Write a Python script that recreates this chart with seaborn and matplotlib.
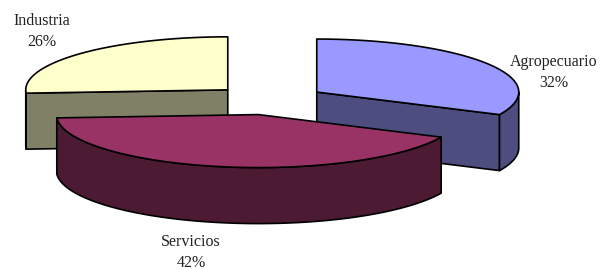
import numpy as np
import seaborn as sns
import matplotlib.pyplot as plt
from matplotlib.patches import Polygon

# Data (clockwise from 12 o'clock, as Excel draws it)
sectors = ["Agropecuario", "Servicios", "Industria"]
shares = [32, 42, 26]
top_colors = ["#9999FF", "#993366", "#FFFFCC"]
side_colors = ["#4D4D80", "#4D1A33", "#808066"]

sns.set_theme(style="white")
plt.rcParams["font.family"] = ["Liberation Serif", "DejaVu Serif"]

# Pie geometry in pixel space
cx, cy = 269, 100
rx, ry = 202, 53
depth = 56
explode = 0.28


def rim(apex, ang):
    return apex[0] + rx * np.cos(ang), apex[1] - ry * np.sin(ang)


def draw_slice(ax, a_start, a_end, top_c, side_c):
    """a_start > a_end, slice goes clockwise from a_start to a_end (radians)."""
    mid = (a_start + a_end) / 2
    apex = (cx + explode * rx * np.cos(mid), cy - explode * ry * np.sin(mid))
    kw = dict(edgecolor="black", linewidth=1.2, joinstyle="round")

    # radial faces that face the viewer
    for ang, sign in [(a_start, 1), (a_end, -1)]:
        normal = ang + sign * np.pi / 2
        if np.sin(normal) < -1e-6:
            p = rim(apex, ang)
            pts = [apex, p, (p[0], p[1] + depth), (apex[0], apex[1] + depth)]
            ax.add_patch(Polygon(pts, closed=True, facecolor=side_c, **kw))

    # outer curved side, only the front half
    angs = np.linspace(a_end, a_start, 300)
    front = angs[np.sin(angs) <= 0]
    if len(front) > 1:
        xs = apex[0] + rx * np.cos(front)
        ys = apex[1] - ry * np.sin(front)
        pts = list(zip(xs, ys)) + list(zip(xs[::-1], ys[::-1] + depth))
        ax.add_patch(Polygon(pts, closed=True, facecolor=side_c, **kw))

    # top face
    xs = apex[0] + rx * np.cos(angs)
    ys = apex[1] - ry * np.sin(angs)
    pts = [apex] + list(zip(xs, ys))
    ax.add_patch(Polygon(pts, closed=True, facecolor=top_c, **kw))


fig = plt.figure(figsize=(6.02, 2.70), dpi=100)
ax = fig.add_axes([0, 0, 1, 1])
ax.set_xlim(0, 602)
ax.set_ylim(270, 0)
ax.axis("off")

# slice angles
bounds = np.pi / 2 - 2 * np.pi * np.concatenate([[0], np.cumsum(shares)]) / sum(shares)
slices = [(bounds[i], bounds[i + 1]) for i in range(len(shares))]

# back slices first, front slice last
order = sorted(range(len(shares)), key=lambda i: -np.sin((slices[i][0] + slices[i][1]) / 2))
for i in order:
    draw_slice(ax, slices[i][0], slices[i][1], top_colors[i], side_colors[i])

# Labels
label_pos = {"Agropecuario": (554, 54), "Servicios": (191, 234), "Industria": (42, 13)}
for name, val in zip(sectors, shares):
    x, y = label_pos[name]
    ax.text(x, y, f"{name}\n{val}%", ha="center", va="top", fontsize=11.5,
            linespacing=1.4, color="#222222")

fig.savefig("out.png", dpi=100)
